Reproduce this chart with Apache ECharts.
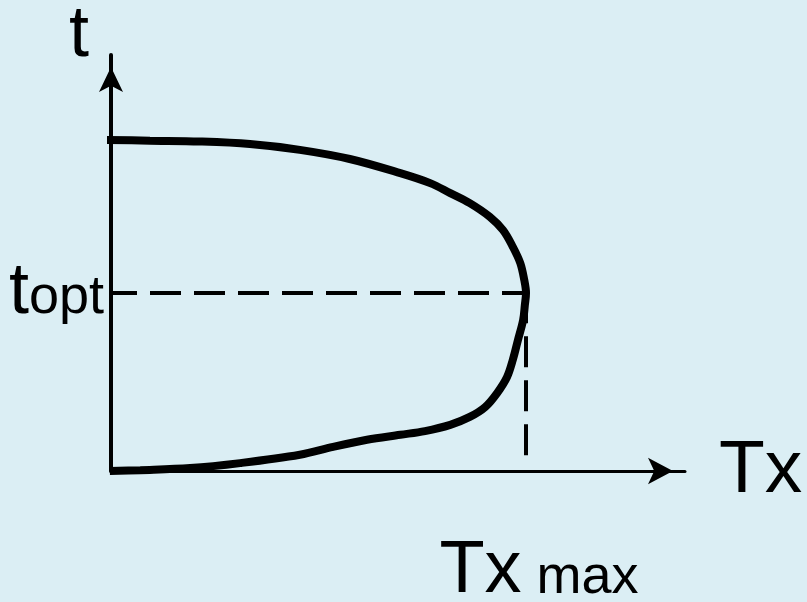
<!DOCTYPE html>
<html>
<head>
<meta charset="utf-8">
<style>
  html, body { margin: 0; padding: 0; background: #dbeef4; }
  #main { width: 807px; height: 602px; }
</style>
<script src="https://cdn.jsdelivr.net/npm/echarts@6/dist/echarts.min.js"></script>
</head>
<body>
<div id="main"></div>
<script>
// curve: [Tx, t], upper branch then lower branch
const curve = [
  [-1.4, 79.6], [6.8, 79.4], [15.5, 79.2], [24.2, 78.6], [32.9, 77.2],
  [41.6, 75.0], [50.4, 71.6], [55.6, 69.2], [59.1, 66.8], [62.5, 64.4],
  [66.0, 61.1], [68.3, 57.9], [70.0, 53.9], [71.3, 50.0], [72.0, 45.9],
  [72.3, 42.8],
  [72.1, 39.9], [71.8, 36.3], [70.9, 31.5], [70.0, 26.7], [69.0, 22.6],
  [67.3, 18.8], [65.2, 15.4], [62.5, 13.0], [59.1, 11.1], [54.7, 9.6],
  [50.4, 8.7], [44.6, 7.5], [38.7, 5.8], [32.9, 3.9], [22.5, 1.9],
  [13.8, 0.7], [5.1, 0.2], [-0.2, 0]
];
const tOpt = 42.8;     // t at the turning point
const txMax = 72.3;    // Tx at the turning point
const dashFloor = 3.8; // where the vertical dashed line stops

let myChart = echarts.init(document.getElementById("main"));

let option = {
  backgroundColor: "#dbeef4",
  animation: false,
  grid: { left: 111, right: 122, top: 55, bottom: 131, outerBoundsMode: "none", containLabel: false },
  xAxis: {
    type: "value",
    min: 0,
    max: 100,
    name: "Tx",
    nameLocation: "end",
    nameGap: 34,
    nameTextStyle: {
      fontFamily: "Liberation Sans",
      fontSize: 75,
      color: "#000",
      verticalAlign: "middle",
      padding: [0, 0, 12, 0]
    },
    axisLine: {
      lineStyle: { color: "#000", width: 3 },
      symbol: ["none", "arrow"],
      symbolSize: [20, 25],
      symbolOffset: [0, -12]
    },
    axisTick: { show: false },
    splitLine: { show: false },
    axisLabel: {
      customValues: [txMax],
      margin: 64,
      padding: [0, 0, 0, 26],
      formatter: function() {
        return "{a|Tx}{b| max}";
      },
      rich: {
        a: { fontFamily: "Liberation Sans", fontSize: 74, color: "#000", verticalAlign: "bottom" },
        b: { fontFamily: "Liberation Sans", fontSize: 54, color: "#000", verticalAlign: "bottom", padding: [0, 0, 4, 0] }
      }
    }
  },
  yAxis: {
    type: "value",
    min: 0,
    max: 100,
    name: "t",
    nameLocation: "end",
    nameGap: -17,
    nameTextStyle: {
      fontFamily: "Liberation Sans",
      fontSize: 72,
      color: "#000",
      align: "center",
      verticalAlign: "bottom",
      padding: [0, 64, 0, 0]
    },
    axisLine: {
      lineStyle: { color: "#000", width: 4 },
      symbol: ["none", "arrow"],
      symbolSize: [18, 25],
      symbolOffset: [0, -12]
    },
    axisTick: { show: false },
    splitLine: { show: false },
    axisLabel: {
      customValues: [tOpt],
      margin: 7,
      formatter: function() {
        return "{a|t}{b|opt}";
      },
      rich: {
        a: { fontFamily: "Liberation Sans", fontSize: 72, color: "#000", verticalAlign: "bottom" },
        b: { fontFamily: "Liberation Sans", fontSize: 54, color: "#000", verticalAlign: "bottom", padding: [0, 0, 4, 0] }
      }
    }
  },
  series: [
    {
      // 虚线：t_opt 水平
      type: "line",
      data: [[0, tOpt], [txMax, tOpt]],
      showSymbol: false,
      silent: true,
      lineStyle: { color: "#000", width: 4, type: [31, 13], dashOffset: 5 }
    },
    {
      // 虚线：Tx max 竖直
      type: "line",
      data: [[txMax, dashFloor], [txMax, tOpt]],
      showSymbol: false,
      silent: true,
      lineStyle: { color: "#000", width: 4, type: [31, 13] }
    },
    {
      type: "line",
      data: curve,
      smooth: 0.35,
      clip: false,
      showSymbol: false,
      lineStyle: { color: "#000", width: 8 }
    }
  ]
};
myChart.setOption(option);
</script>
</body>
</html>
